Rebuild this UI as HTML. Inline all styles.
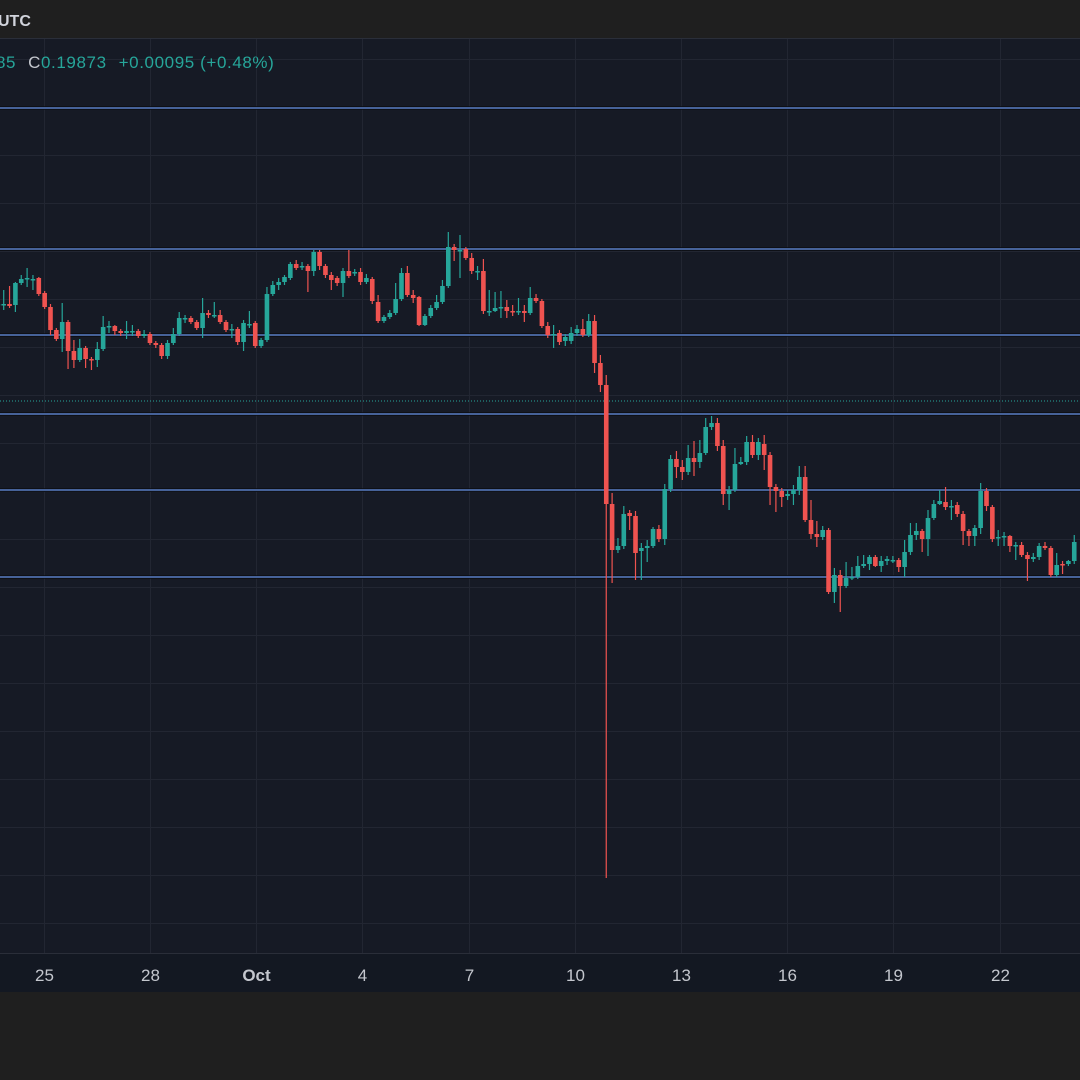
<!DOCTYPE html>
<html><head><meta charset="utf-8">
<style>
html,body{margin:0;padding:0;background:#1f1f1f;}
body{width:1080px;height:1080px;overflow:hidden;position:relative;font-family:"Liberation Sans",sans-serif;}
#top{position:absolute;left:0;top:0;width:1080px;height:38px;background:#1f1f1f;border-bottom:1px solid #2a2e39;}
#bottom{position:absolute;left:0;top:992px;width:1080px;height:88px;background:#1f1f1f;}
svg{position:absolute;left:0;top:39px;}
</style></head>
<body>
<div id="top">
  <span style="position:absolute;left:-2px;top:13px;color:#d1d4dc;font-size:16px;font-weight:bold;">UTC</span>
</div>
<svg id="chart" width="1080" height="953"></svg>
<div id="bottom"></div>
<script>
const O=[715,695,696,696,695,717,721,721,722,707,693,670,661,678,649,640,652,641,640,651,673,674,669,667,669,669,664,666,657,655,644,657,666,682,682,678,672,687,685,685,678,671,671,658,676,677,654,660,706,715,718,722,736,734,734,729,748,734,725,722,717,729,728,728,718,721,698,679,683,687,701,727,705,703,675,684,692,698,714,753,750,751,742,729,729,689,689,693,693,689,689,689,687,702,699,674,666,667,659,659,667,671,665,679,637,615,496,450,454,487,484,449,452,454,471,461,511,541,533,528,542,538,547,573,577,554,506,510,536,538,558,545,556,545,513,509,504,506,510,523,480,466,463,470,408,425,414,422,423,434,436,443,434,439,440,440,433,448,465,469,461,482,496,498,494,495,486,469,464,472,509,493,463,464,464,454,455,445,441,443,454,452,425,436,436,439];
const C=[695,696,696,694,717,721,722,721,706,693,670,661,678,649,640,652,641,640,651,673,674,669,667,669,669,664,666,657,655,644,657,666,682,682,678,672,687,685,685,678,670,671,658,677,676,654,660,706,715,718,723,736,732,734,729,748,734,725,720,717,729,724,728,718,722,699,679,683,687,701,727,705,702,675,684,692,698,714,753,750,750,742,729,729,689,689,692,693,689,688,689,687,702,699,674,665,666,658,663,667,671,665,679,637,615,496,450,454,486,484,447,452,454,471,461,511,541,533,528,542,538,547,573,577,554,506,510,536,538,558,545,558,545,513,509,503,506,510,523,480,466,463,470,408,425,414,422,423,434,436,443,434,439,441,440,433,448,465,469,461,482,496,499,493,494,486,469,464,472,509,494,461,463,464,454,455,445,441,443,454,452,425,435,435,439,458];
const H=[720,700,710,714,718,725,732,725,723,709,696,672,697,680,660,661,654,643,658,684,679,675,671,679,675,671,670,668,659,657,660,672,688,685,684,680,702,690,698,690,680,676,673,680,689,679,662,713,719,722,725,738,740,738,736,750,750,736,728,724,732,750,731,732,726,723,705,685,690,717,732,734,710,704,686,695,705,720,768,756,765,753,747,734,741,710,708,709,700,695,702,695,713,706,701,678,675,670,666,673,675,681,686,685,645,625,507,462,494,490,489,457,460,473,475,516,545,549,540,555,559,560,582,584,582,560,514,552,543,564,565,562,565,548,516,512,510,515,534,534,500,479,474,472,432,430,438,433,444,445,445,445,444,444,444,442,460,477,477,471,490,500,510,513,500,498,489,471,475,517,512,495,470,468,465,458,458,448,447,457,458,454,447,439,440,465];
const L=[692,692,690,692,688,715,713,710,704,691,665,659,648,631,632,638,632,630,633,649,667,665,664,661,664,662,662,655,652,641,641,655,664,677,676,670,662,682,682,676,668,662,655,649,672,652,652,658,704,710,715,720,730,730,708,724,730,722,710,714,703,722,724,715,716,696,677,677,681,685,699,703,697,674,674,682,690,696,712,739,722,740,726,720,686,684,688,682,682,684,685,678,685,697,672,662,652,655,654,656,664,663,663,627,608,122,417,447,451,470,420,420,438,452,458,455,508,522,520,525,524,532,545,570,549,495,490,508,535,535,542,540,530,495,488,493,500,495,505,478,461,453,460,406,397,388,412,420,421,432,430,433,428,435,437,428,423,445,460,448,444,480,495,490,480,483,455,454,454,466,489,458,454,454,448,440,443,419,438,440,450,423,423,426,434,436];
const dayLabels=["25","28","Oct","4","7","10","13","16","19","22"];
const dayIdx=[8.9,27.0,45.2,63.3,81.5,99.6,117.8,135.9,154.1,172.3];
const levelLines=[892,751,665,586,510,423];
const lastClose=[599];

const svg=document.getElementById('chart');
const NS='http://www.w3.org/2000/svg';
const TOP=39;
function xScale(i){return -8+i*5.85;}
function yScale(v){return (1000-v)-TOP;}
function mk(tag,attrs){const e=document.createElementNS(NS,tag);for(const k in attrs)e.setAttribute(k,attrs[k]);svg.appendChild(e);return e;}

let bg=mk('rect',{x:0,y:0,width:1080,height:953,fill:'#161a25'});


for(let y=20;y<914;y+=48){
  let g=mk('line',{x1:0,x2:1080,y1:y+0.5,y2:y+0.5,stroke:'#222632','stroke-width':1});
  
  
}
let axbg=mk('rect',{x:0,y:915,width:1080,height:38,fill:'#131722',opacity:0.6});


dayIdx.forEach((d,k)=>{
  const x=Math.round(xScale(d))+0.5;
  let g=mk('line',{x1:x,x2:x,y1:0,y2:914,stroke:'#222632','stroke-width':1});
  
  
  let t=mk('text',{x:x,y:942,'text-anchor':'middle',fill:'#c4c7ce','font-size':17,'font-family':'Liberation Sans, sans-serif','font-weight':dayLabels[k]==='Oct'?'bold':'normal'});
  t.textContent=dayLabels[k];
  
  
});
let ax=mk('line',{x1:0,x2:1080,y1:914.5,y2:914.5,stroke:'#2a2e39','stroke-width':1});



levelLines.forEach(v=>{
  const y=yScale(v);
  let s=mk('line',{x1:0,x2:1080,y1:y,y2:y,stroke:'#0b0d12','stroke-width':3.5});
  
  
  let l=mk('line',{x1:0,x2:1080,y1:y,y2:y,stroke:'#5a7fc6','stroke-width':1.5});
  
  
});
let pl=mk('line',{x1:0,x2:1080,y1:yScale(lastClose[0]),y2:yScale(lastClose[0]),stroke:'#26a69a','stroke-width':1,'stroke-dasharray':'1,2'});



for(let i=0;i<O.length;i++){
  const x=xScale(i);
  const up=C[i]>=O[i];
  const col=up?'#26a69a':'#ef5350';
  let w=mk('line',{x1:x,x2:x,y1:yScale(H[i]),y2:yScale(L[i]),stroke:col,'stroke-width':1.2});
  
  
  const yt=yScale(Math.max(O[i],C[i])), yb=yScale(Math.min(O[i],C[i]));
  let b=mk('rect',{x:x-2.3,y:yt,width:4.6,height:Math.max(1.5,yb-yt),fill:col});
  
  
}
let lg=mk('text',{x:-4,y:29,'font-size':17,'letter-spacing':0.6,'font-family':'Liberation Sans, sans-serif',fill:'#26a69a'});


lg.innerHTML='<tspan>85</tspan><tspan dx="12" fill="#c4c7ce">C</tspan><tspan>0.19873</tspan><tspan dx="12">+0.00095 (+0.48%)</tspan>';
</script>
</body></html>
